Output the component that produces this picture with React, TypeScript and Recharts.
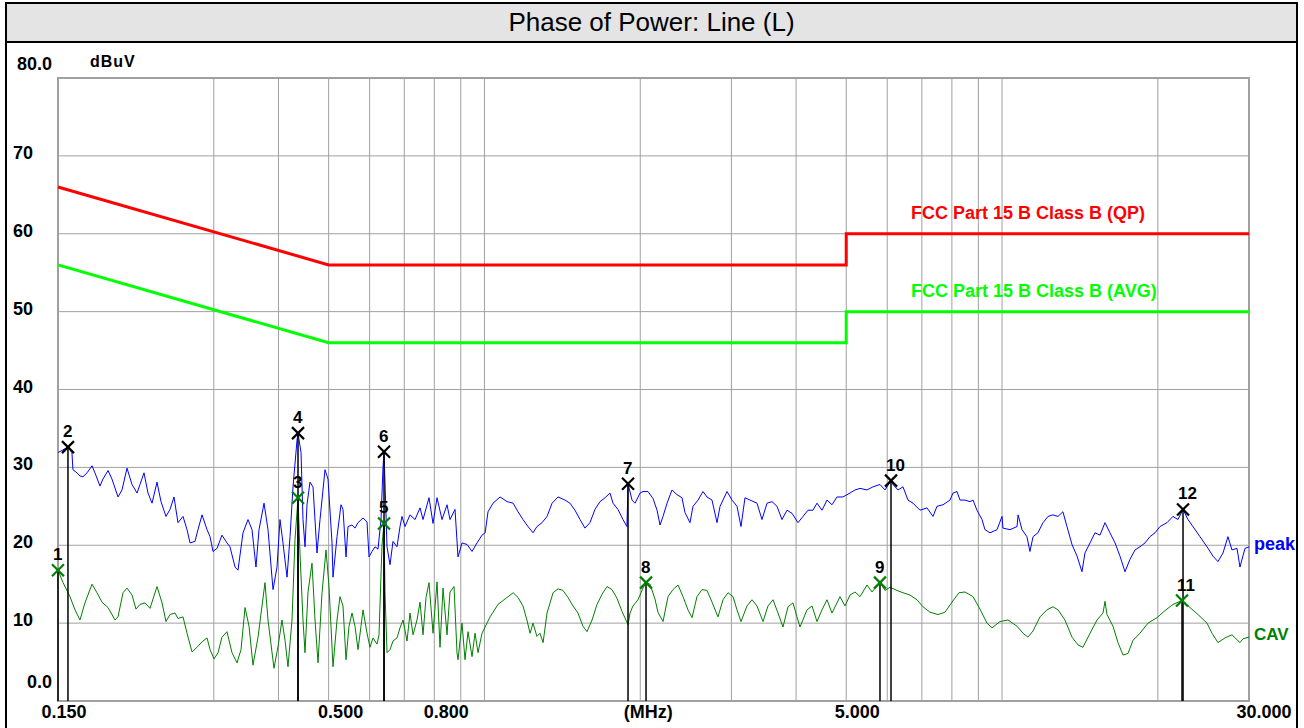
import React from 'react';
import {
  ComposedChart,
  Line,
  Scatter,
  XAxis,
  YAxis,
  CartesianGrid,
  ReferenceLine,
  ReferenceArea,
} from 'recharts';

// ---------- data ----------
const gridFreqs = [0.15, 0.3, 0.4, 0.5, 0.6, 0.7, 0.8, 0.9, 1, 2, 3, 4, 5, 6, 7, 8, 9, 10, 20, 30];
const xTickLabels: Record<string, string> = {
  '0.15': '0.150',
  '0.5': '0.500',
  '0.8': '0.800',
  '2': '(MHz)',
  '5': '5.000',
  '30': '30.000',
};
const levelTicks = [0, 10, 20, 30, 40, 50, 60, 70, 80];

const limitFreq = [0.15, 0.5, 5, 5, 30];
const qpLimit = [66, 56, 56, 60, 60];
const avgLimit = [56, 46, 46, 50, 50];

const peakTrace: [number, number][] = [
  [0.15, 31.9], [0.1568, 32.6], [0.1596, 31.9], [0.1603, 29.7], [0.1632, 29.3], [0.1654, 28.9], [0.1676, 28.8],
  [0.1707, 29.3], [0.1745, 30.2], [0.1768, 29.3], [0.1808, 27.6], [0.1832, 28.5], [0.1874, 29.6], [0.1907, 28.5],
  [0.1959, 26.2], [0.1994, 27.1], [0.2039, 29.9], [0.2085, 27.8], [0.2132, 26.7], [0.216, 27.8], [0.2199, 29.3],
  [0.2239, 26.7], [0.2279, 25.4], [0.233, 28.1], [0.2372, 25.6], [0.2425, 23.7], [0.2469, 24.6], [0.2513, 26.2],
  [0.2558, 22.9], [0.2616, 23.7], [0.2663, 22.0], [0.2699, 20.3], [0.2759, 20.5], [0.2796, 22.0], [0.2847, 23.9],
  [0.2911, 22.0], [0.295, 21.1], [0.2989, 19.2], [0.3043, 19.6], [0.3111, 21.3], [0.3181, 20.3], [0.3224, 19.8],
  [0.3297, 17.2], [0.3341, 16.8], [0.3416, 21.6], [0.3493, 23.3], [0.3556, 22.0], [0.3619, 17.2], [0.3668, 22.0],
  [0.3751, 25.4], [0.3818, 22.0], [0.3904, 14.3], [0.3974, 17.2], [0.4027, 23.3], [0.4081, 20.3], [0.4155, 15.9],
  [0.4211, 21.1], [0.4267, 27.5], [0.4344, 33.5], [0.4363, 34.4], [0.4422, 31.9], [0.4461, 23.3], [0.4501, 19.8],
  [0.4541, 25.2], [0.4602, 28.1], [0.4664, 27.5], [0.4748, 19.0], [0.4812, 23.3], [0.492, 29.7], [0.4986, 28.5],
  [0.5076, 20.3], [0.5098, 15.9], [0.519, 21.1], [0.5283, 25.2], [0.533, 24.6], [0.5402, 18.5], [0.545, 22.4],
  [0.5548, 22.6], [0.5622, 22.2], [0.5698, 22.9], [0.5826, 23.5], [0.5931, 23.0], [0.5984, 18.5], [0.6064, 19.2],
  [0.6146, 19.8], [0.6228, 19.5], [0.6312, 23.3], [0.6368, 30.0], [0.6397, 32.0], [0.6483, 19.8], [0.657, 17.5],
  [0.6658, 20.5], [0.6777, 19.8], [0.6869, 22.4], [0.693, 23.7], [0.7023, 22.4], [0.7181, 23.9], [0.7343, 23.3],
  [0.7508, 24.8], [0.7609, 23.3], [0.7814, 26.1], [0.7955, 22.8], [0.8098, 26.1], [0.828, 23.3], [0.8466, 25.2],
  [0.858, 23.3], [0.8773, 24.6], [0.889, 18.5], [0.905, 20.3], [0.9254, 20.1], [0.9462, 19.2], [0.9675, 20.3],
  [0.9892, 21.3], [1.003, 21.6], [1.016, 24.3], [1.039, 25.4], [1.072, 26.2], [1.106, 25.6], [1.136, 25.4],
  [1.161, 24.3], [1.187, 23.3], [1.214, 22.4], [1.241, 21.6], [1.263, 22.4], [1.292, 22.9], [1.321, 23.7],
  [1.351, 25.4], [1.387, 26.2], [1.431, 25.8], [1.463, 25.4], [1.496, 24.5], [1.53, 23.3], [1.564, 22.2],
  [1.599, 22.9], [1.635, 24.6], [1.672, 25.6], [1.71, 26.1], [1.748, 26.7], [1.772, 25.4], [1.811, 24.6],
  [1.852, 23.3], [1.885, 22.4], [1.894, 27.9], [1.928, 25.8], [1.954, 25.4], [1.998, 26.7], [2.024, 26.9],
  [2.07, 26.9], [2.117, 26.0], [2.155, 24.5], [2.184, 22.6], [2.213, 23.7], [2.253, 25.4], [2.303, 27.1],
  [2.355, 26.5], [2.408, 26.1], [2.44, 24.2], [2.495, 22.9], [2.529, 25.0], [2.586, 25.8], [2.644, 26.9],
  [2.691, 26.2], [2.752, 25.8], [2.814, 22.9], [2.852, 25.0], [2.942, 26.9], [3.008, 25.8], [3.076, 25.0],
  [3.131, 22.4], [3.187, 26.1], [3.259, 25.8], [3.362, 25.4], [3.437, 23.3], [3.515, 25.4], [3.594, 25.6],
  [3.675, 25.0], [3.757, 23.3], [3.842, 24.5], [3.928, 24.1], [4.034, 22.9], [4.125, 23.7], [4.218, 24.5],
  [4.313, 24.5], [4.39, 25.4], [4.489, 24.5], [4.59, 25.8], [4.693, 25.2], [4.799, 26.2], [4.928, 26.2],
  [5.084, 26.7], [5.199, 27.1], [5.316, 27.3], [5.484, 27.1], [5.632, 27.5], [5.81, 27.8], [5.941, 27.1],
  [6.102, 28.3], [6.156, 27.8], [6.295, 27.1], [6.436, 27.5], [6.581, 25.8], [6.729, 25.4], [6.942, 24.5],
  [7.161, 24.8], [7.355, 23.7], [7.487, 25.0], [7.69, 25.2], [7.933, 25.8], [8.039, 26.7], [8.184, 26.9],
  [8.294, 25.8], [8.48, 25.8], [8.671, 25.6], [8.788, 25.8], [8.945, 24.5], [9.146, 23.3], [9.269, 22.0],
  [9.478, 21.6], [9.778, 22.0], [9.998, 23.7], [10.04, 22.2], [10.36, 22.0], [10.69, 22.4], [10.74, 23.9],
  [10.93, 22.0], [11.17, 21.1], [11.32, 19.2], [11.48, 21.1], [11.73, 21.6], [12.0, 22.9], [12.27, 23.7],
  [12.54, 23.9], [12.83, 23.7], [13.11, 24.3], [13.35, 22.4], [13.65, 20.1], [13.96, 18.6], [14.27, 16.6],
  [14.46, 19.0], [14.79, 20.3], [15.12, 21.6], [15.46, 21.3], [15.81, 22.9], [16.16, 21.6], [16.53, 20.3],
  [16.9, 18.6], [17.28, 16.6], [17.67, 18.2], [18.07, 19.4], [18.47, 19.8], [18.89, 20.3], [19.31, 21.1],
  [19.75, 21.6], [20.19, 22.4], [20.83, 22.9], [21.39, 23.7], [21.87, 23.3], [22.37, 24.6], [22.87, 23.3],
  [23.38, 22.4], [24.12, 21.1], [24.89, 19.8], [25.56, 18.6], [26.13, 17.9], [26.72, 19.0], [27.32, 21.1],
  [27.81, 19.4], [28.44, 19.6], [28.82, 17.2], [29.47, 19.6], [30.0, 19.8],
];

const cavTrace: [number, number][] = [
  [0.15, 16.8], [0.1534, 15.2], [0.1582, 13.4], [0.1618, 11.7], [0.1654, 10.4], [0.1691, 12.6], [0.1745, 15.0],
  [0.1784, 13.9], [0.1824, 12.7], [0.1874, 12.0], [0.1933, 10.4], [0.1959, 10.8], [0.2003, 13.9], [0.2039, 14.5],
  [0.2085, 13.6], [0.2122, 11.8], [0.216, 12.4], [0.2209, 12.6], [0.2259, 11.9], [0.233, 14.7], [0.2383, 12.6],
  [0.2425, 10.2], [0.2469, 11.1], [0.2524, 11.3], [0.2558, 10.6], [0.2616, 10.8], [0.2663, 8.7], [0.2723, 6.3],
  [0.2784, 6.9], [0.2847, 7.6], [0.2911, 8.1], [0.295, 6.6], [0.3003, 5.4], [0.3057, 6.2], [0.3111, 8.2],
  [0.3181, 8.9], [0.3253, 6.2], [0.3326, 4.9], [0.3386, 6.6], [0.3447, 12.0], [0.3509, 9.6], [0.3571, 4.6],
  [0.3652, 8.2], [0.3767, 15.2], [0.3818, 10.4], [0.3921, 4.2], [0.3992, 7.0], [0.4063, 10.4], [0.4118, 7.8],
  [0.4173, 4.4], [0.4248, 10.4], [0.4305, 20.7], [0.4363, 26.1], [0.4402, 18.9], [0.4461, 10.4], [0.4501, 6.2],
  [0.4562, 14.0], [0.4643, 17.7], [0.4706, 10.4], [0.4769, 4.9], [0.4855, 13.9], [0.4942, 19.4], [0.5008, 14.7],
  [0.5098, 4.4], [0.519, 10.4], [0.5259, 13.4], [0.533, 12.2], [0.5402, 5.3], [0.5474, 9.6], [0.5548, 11.3],
  [0.5622, 9.6], [0.5698, 6.6], [0.5774, 9.6], [0.5826, 11.7], [0.5931, 8.7], [0.601, 6.9], [0.6091, 8.1],
  [0.62, 7.3], [0.6256, 8.5], [0.634, 20.0], [0.6397, 22.8], [0.6425, 14.0], [0.6483, 6.2], [0.657, 6.6],
  [0.6658, 7.7], [0.6777, 8.1], [0.6869, 9.4], [0.6961, 10.4], [0.7086, 7.7], [0.7181, 11.3], [0.7278, 8.5],
  [0.7408, 10.4], [0.7508, 12.7], [0.7609, 8.5], [0.7711, 13.3], [0.7814, 15.2], [0.7955, 8.7], [0.8098, 15.3],
  [0.8206, 6.9], [0.8317, 14.5], [0.8466, 8.5], [0.858, 14.0], [0.8734, 14.7], [0.8851, 6.2], [0.889, 5.3],
  [0.905, 10.0], [0.9172, 5.3], [0.9295, 8.9], [0.9462, 5.7], [0.9589, 8.7], [0.9718, 6.2], [0.9892, 8.7],
  [1.003, 9.5], [1.025, 10.8], [1.039, 11.4], [1.062, 12.4], [1.086, 12.9], [1.111, 13.4], [1.136, 13.9],
  [1.161, 13.3], [1.187, 12.2], [1.208, 10.4], [1.225, 8.7], [1.241, 10.0], [1.263, 8.3], [1.28, 8.7],
  [1.298, 7.5], [1.321, 11.3], [1.339, 12.6], [1.357, 13.9], [1.387, 14.4], [1.418, 14.2], [1.45, 13.3],
  [1.483, 12.2], [1.516, 11.3], [1.55, 9.6], [1.578, 8.9], [1.614, 10.4], [1.65, 12.4], [1.687, 13.7],
  [1.725, 14.7], [1.764, 14.3], [1.803, 13.2], [1.844, 11.5], [1.894, 9.8], [1.911, 11.3], [1.936, 12.2],
  [1.98, 13.0], [2.024, 14.5], [2.052, 15.2], [2.089, 15.0], [2.135, 13.1], [2.164, 11.4], [2.213, 10.2],
  [2.263, 13.4], [2.313, 14.3], [2.366, 14.9], [2.419, 13.4], [2.473, 11.7], [2.518, 10.7], [2.574, 13.4],
  [2.632, 14.3], [2.691, 14.2], [2.752, 12.7], [2.826, 10.8], [2.89, 13.0], [2.955, 13.9], [3.021, 13.4],
  [3.076, 11.7], [3.131, 10.2], [3.215, 12.2], [3.288, 13.0], [3.362, 12.2], [3.453, 10.2], [3.53, 12.2],
  [3.61, 13.0], [3.691, 11.3], [3.774, 9.5], [3.859, 12.1], [3.946, 12.6], [4.016, 10.8], [4.07, 9.5],
  [4.199, 11.7], [4.294, 12.2], [4.39, 10.2], [4.489, 11.7], [4.59, 13.0], [4.693, 11.3], [4.799, 12.6],
  [4.863, 13.4], [4.972, 12.2], [5.084, 13.6], [5.199, 14.0], [5.316, 13.4], [5.484, 14.9], [5.607, 14.0],
  [5.81, 15.2], [5.941, 14.2], [6.075, 14.6], [6.267, 14.2], [6.436, 13.9], [6.64, 13.6], [6.85, 13.0],
  [7.035, 12.1], [7.258, 11.4], [7.52, 11.1], [7.758, 11.4], [8.004, 12.7], [8.257, 13.9], [8.48, 14.0],
  [8.788, 13.4], [9.065, 11.8], [9.352, 10.0], [9.563, 9.4], [9.909, 10.2], [10.27, 10.4], [10.69, 9.6],
  [10.98, 8.7], [11.22, 8.2], [11.48, 9.0], [11.84, 10.8], [12.21, 11.7], [12.54, 12.1], [12.83, 11.7],
  [13.23, 10.4], [13.65, 8.2], [14.02, 7.2], [14.33, 6.9], [14.79, 8.7], [15.26, 10.4], [15.67, 11.3],
  [15.81, 12.8], [15.95, 11.1], [16.38, 9.6], [16.75, 7.5], [17.13, 5.9], [17.51, 6.1], [17.91, 7.8],
  [18.47, 8.7], [19.14, 10.0], [19.92, 10.7], [20.64, 11.6], [21.39, 12.4], [22.27, 12.9], [23.07, 12.0],
  [23.91, 11.1], [24.89, 10.0], [25.45, 8.7], [26.13, 7.5], [26.96, 8.1], [27.81, 8.5], [28.82, 7.5],
  [29.21, 8.0], [30.0, 8.2],
];

const markerNo = [1, 2, 3, 4, 5, 6, 7, 8, 9, 10, 11, 12];
const markerFreq = [0.15, 0.1568, 0.4363, 0.4363, 0.6397, 0.6397, 1.894, 2.052, 5.81, 6.102, 22.27, 22.37];
const markerLevel = [16.8, 32.6, 26.1, 34.4, 22.8, 32.0, 27.9, 15.2, 15.2, 28.3, 12.9, 24.6];
const markerDetector = ['CAV', 'peak', 'CAV', 'peak', 'CAV', 'peak', 'peak', 'CAV', 'CAV', 'peak', 'CAV', 'peak'];

// ---------- derived tables ----------
const toRows = (pts: [number, number][]) => pts.map(([f, v]) => ({ f, v }));
const peakRows = toRows(peakTrace);
const cavRows = toRows(cavTrace);
const qpRows = limitFreq.map((f, i) => ({ f, v: qpLimit[i] }));
const avgRows = limitFreq.map((f, i) => ({ f, v: avgLimit[i] }));
const markerRows = markerNo.map((n, i) => ({
  n,
  f: markerFreq[i],
  v: markerLevel[i],
  det: markerDetector[i],
}));

// ---------- styles ----------
const FONT = "'Liberation Sans', Arial, Helvetica, sans-serif";
const GRID = '#a0a0a0';
const xLabelShift: Record<string, number> = { '0.15': 6, '0.5': 12, '0.8': 12, '2': 8, '5': 11, '30': 15 };

const XTick = (props: any) => {
  const { x, payload } = props;
  const key = String(payload.value);
  const label = xTickLabels[key];
  if (!label) return <g />;
  return (
    <text
      x={x + (xLabelShift[key] || 0)}
      y={718}
      textAnchor="middle"
      fontFamily={FONT}
      fontWeight="bold"
      fontSize={18}
      fill="#000"
    >
      {label}
    </text>
  );
};

const YTick = (props: any) => {
  const { y, payload } = props;
  const v = payload.value as number;
  const common = { fontFamily: FONT, fontWeight: 'bold' as const, fontSize: 18, fill: '#000' };
  if (v === 80) {
    return (
      <text x={52} y={y - 8} textAnchor="end" {...common}>
        80.0
      </text>
    );
  }
  if (v === 0) {
    return (
      <text x={52} y={y - 13} textAnchor="end" {...common}>
        0.0
      </text>
    );
  }
  return (
    <text x={13} y={y + 3} textAnchor="start" {...common}>
      {v}
    </text>
  );
};

const MarkerShape = (props: any) => {
  const { cx, cy, payload } = props;
  if (cx == null || cy == null) return <g />;
  const color = payload.det === 'CAV' ? '#008000' : '#000000';
  const s = 6;
  return (
    <g>
      <line x1={cx - s} y1={cy - s} x2={cx + s} y2={cy + s} stroke={color} strokeWidth={2.2} />
      <line x1={cx - s} y1={cy + s} x2={cx + s} y2={cy - s} stroke={color} strokeWidth={2.2} />
      <text
        x={cx - 5}
        y={cy - 10}
        textAnchor="start"
        fontFamily={FONT}
        fontWeight="bold"
        fontSize={17}
        fill="#000"
      >
        {payload.n}
      </text>
    </g>
  );
};

export default function App() {
  return (
    <div
      style={{
        position: 'absolute',
        left: 0,
        top: 0,
        width: 1304,
        height: 728,
        overflow: 'hidden',
        background: '#ffffff',
        fontFamily: FONT,
      }}
    >
      {/* outer frame */}
      <div
        style={{
          position: 'absolute',
          left: 5,
          top: 2,
          width: 1289,
          height: 740,
          border: '2px solid #000',
        }}
      />
      {/* title bar */}
      <div
        style={{
          position: 'absolute',
          left: 7,
          top: 4,
          width: 1289,
          height: 37,
          background: '#e4e4e4',
          borderBottom: '2px solid #000',
          textAlign: 'center',
          lineHeight: '37px',
          fontSize: 26,
          color: '#000',
          fontFamily: FONT,
        }}
      >
        Phase of Power: Line (L)
      </div>

      <div style={{ position: 'absolute', left: 0, top: 0 }}>
        <ComposedChart
          width={1304}
          height={728}
          margin={{ top: 78, right: 55, bottom: 0, left: 0 }}
        >
          <CartesianGrid stroke={GRID} strokeWidth={1} />
          <XAxis
            dataKey="f"
            type="number"
            scale="log"
            domain={[0.15, 30]}
            ticks={gridFreqs}
            interval={0}
            height={27}
            axisLine={false}
            tickLine={false}
            tick={(p: any) => <XTick {...p} />}
          />
          <YAxis
            type="number"
            domain={[0, 80]}
            ticks={levelTicks}
            interval={0}
            width={58}
            axisLine={false}
            tickLine={false}
            tick={(p: any) => <YTick {...p} />}
          />
          <ReferenceArea x1={0.15} x2={30} y1={0} y2={80} fill="none" stroke={GRID} strokeWidth={2} />

          <Line data={qpRows} dataKey="v" stroke="#ff0000" strokeWidth={3} dot={false} activeDot={false} isAnimationActive={false} />
          <Line data={avgRows} dataKey="v" stroke="#00ff00" strokeWidth={3} dot={false} activeDot={false} isAnimationActive={false} />
          <Line data={cavRows} dataKey="v" stroke="#008000" strokeWidth={1} dot={false} activeDot={false} isAnimationActive={false} />
          <Line data={peakRows} dataKey="v" stroke="#0000ff" strokeWidth={1} dot={false} activeDot={false} isAnimationActive={false} />

          {markerRows.map((m) => (
            <ReferenceLine
              key={'ml' + m.n}
              segment={[
                { x: m.f, y: 0 },
                { x: m.f, y: m.v },
              ]}
              stroke="#000"
              strokeWidth={1.5}
            />
          ))}
          <Scatter
            data={markerRows}
            dataKey="v"
            isAnimationActive={false}
            shape={(p: any) => <MarkerShape {...p} />}
          />
        </ComposedChart>
      </div>

      {/* annotation texts */}
      <svg
        width={1304}
        height={728}
        style={{ position: 'absolute', left: 0, top: 0, pointerEvents: 'none' }}
      >
        <text x={90} y={67} fontFamily={FONT} fontWeight="bold" fontSize={16} letterSpacing={1} fill="#000">
          dBuV
        </text>
        <text x={911} y={219} fontFamily={FONT} fontWeight="bold" fontSize={18} fill="#ff0000">
          FCC Part 15 B Class B (QP)
        </text>
        <text x={911} y={297} fontFamily={FONT} fontWeight="bold" fontSize={18} fill="#00ff00">
          FCC Part 15 B Class B (AVG)
        </text>
        <text x={1254} y={550} fontFamily={FONT} fontWeight="bold" fontSize={18} fill="#0000ff">
          peak
        </text>
        <text x={1254} y={640} fontFamily={FONT} fontWeight="bold" fontSize={17} fill="#008000">
          CAV
        </text>
      </svg>
    </div>
  );
}
